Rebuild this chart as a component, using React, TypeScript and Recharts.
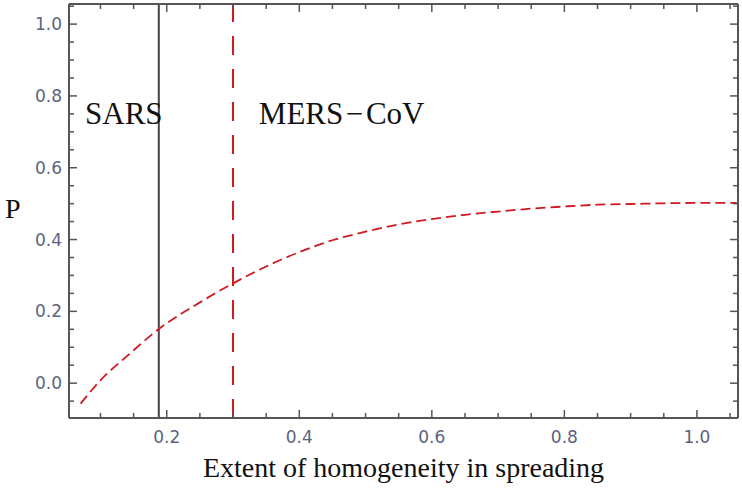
import React from "react";
import {
  LineChart,
  Line,
  XAxis,
  YAxis,
  ReferenceLine,
  ReferenceDot,
} from "recharts";

// curve
const xValues = [0.07, 0.1, 0.143, 0.186, 0.25, 0.3, 0.35, 0.4, 0.45, 0.5, 0.55, 0.6, 0.65, 0.7, 0.75, 0.8, 0.85, 0.9, 0.95, 1.0, 1.06];
const pValues = [-0.057, 0.008, 0.08, 0.148, 0.225, 0.278, 0.325, 0.365, 0.398, 0.422, 0.442, 0.457, 0.469, 0.478, 0.486, 0.492, 0.497, 0.499, 0.501, 0.502, 0.502];

const xTicks = [0.1, 0.15, 0.2, 0.25, 0.3, 0.35, 0.4, 0.45, 0.5, 0.55, 0.6, 0.65, 0.7, 0.75, 0.8, 0.85, 0.9, 0.95, 1.0, 1.05];
const yTicks = [-0.05, 0, 0.05, 0.1, 0.15, 0.2, 0.25, 0.3, 0.35, 0.4, 0.45, 0.5, 0.55, 0.6, 0.65, 0.7, 0.75, 0.8, 0.85, 0.9, 0.95, 1.0, 1.05];

const sarsX = 0.188;
const mersX = 0.3;

const data = xValues.map((x, i) => ({ x, p: pValues[i] }));

const frame = "#555";
const tickText = "#5a6480";
const red = "#d0191f";
const serif = "Liberation Serif";

const isMajor = (v: number) => Math.abs(v / 0.2 - Math.round(v / 0.2)) < 1e-6;

const tickLen = (v: number) => (isMajor(v) ? 8 : 5);

const BottomTick = (props: any) => {
  const { x, y, payload } = props;
  const v = payload.value;
  return (
    <g>
      <line x1={x} x2={x} y1={y} y2={y - tickLen(v)} stroke={frame} strokeWidth={1.5} />
      {isMajor(v) && (
        <text x={x} y={y + 25} textAnchor="middle" fill={tickText} fontSize={17} fontFamily="DejaVu Sans">
          {v.toFixed(1)}
        </text>
      )}
    </g>
  );
};

const TopTick = (props: any) => {
  const { x, y, payload } = props;
  return <line x1={x} x2={x} y1={y} y2={y + tickLen(payload.value)} stroke={frame} strokeWidth={1.5} />;
};

const LeftTick = (props: any) => {
  const { x, y, payload } = props;
  const v = payload.value;
  return (
    <g>
      <line x1={x} x2={x + tickLen(v)} y1={y} y2={y} stroke={frame} strokeWidth={1.5} />
      {isMajor(v) && (
        <text x={x - 7} y={y + 6} textAnchor="end" fill={tickText} fontSize={17} fontFamily="DejaVu Sans">
          {Math.abs(v) < 1e-9 ? "0.0" : v.toFixed(1)}
        </text>
      )}
    </g>
  );
};

const RightTick = (props: any) => {
  const { x, y, payload } = props;
  return <line x1={x} x2={x - tickLen(payload.value)} y1={y} y2={y} stroke={frame} strokeWidth={1.5} />;
};

const noteLabel = (value: string) => ({
  value,
  position: "right" as const,
  offset: 0,
  fontSize: 31,
  fontFamily: serif,
  fill: "#111",
});

export default function App() {
  const xDomain: [number, number] = [0.0525, 1.062];
  const yDomain: [number, number] = [-0.097, 1.056];
  return (
    <div style={{ position: "absolute", left: 0, top: 0, background: "#fff" }}>
      <LineChart width={742} height={491} data={data} margin={{ top: 0, right: 0, left: 0, bottom: 0 }}>
        <XAxis
          xAxisId="b"
          dataKey="x"
          type="number"
          domain={xDomain}
          allowDataOverflow
          ticks={xTicks}
          interval={0}
          height={73}
          tickSize={0}
          tickMargin={0}
          tick={<BottomTick />}
          axisLine={{ stroke: frame, strokeWidth: 2 }}
          label={{
            value: "Extent of homogeneity in spreading",
            position: "insideBottom",
            offset: 14,
            fontSize: 28,
            fontFamily: serif,
            fill: "#111",
          }}
        />
        <XAxis
          xAxisId="t"
          orientation="top"
          dataKey="x"
          type="number"
          domain={xDomain}
          allowDataOverflow
          ticks={xTicks}
          interval={0}
          height={4}
          tickSize={0}
          tickMargin={0}
          tick={<TopTick />}
          axisLine={{ stroke: frame, strokeWidth: 2 }}
        />
        <YAxis
          yAxisId="l"
          type="number"
          domain={yDomain}
          allowDataOverflow
          ticks={yTicks}
          interval={0}
          width={69}
          tickSize={0}
          tickMargin={0}
          tick={<LeftTick />}
          axisLine={{ stroke: frame, strokeWidth: 2 }}
          label={{
            value: "P",
            position: "insideLeft",
            offset: 5,
            dy: -3,
            fontSize: 28,
            fontFamily: serif,
            fill: "#111",
          }}
        />
        <YAxis
          yAxisId="r"
          orientation="right"
          type="number"
          domain={yDomain}
          allowDataOverflow
          ticks={yTicks}
          interval={0}
          width={4}
          tickSize={0}
          tickMargin={0}
          tick={<RightTick />}
          axisLine={{ stroke: frame, strokeWidth: 2 }}
        />
        <ReferenceLine xAxisId="b" yAxisId="l" x={sarsX} stroke="#444" strokeWidth={2} />
        <ReferenceLine xAxisId="b" yAxisId="l" x={mersX} stroke={red} strokeWidth={2} strokeDasharray="19 14" />
        <Line
          xAxisId="b"
          yAxisId="l"
          dataKey="p"
          type="monotone"
          stroke={red}
          strokeWidth={1.8}
          strokeDasharray="10 5"
          dot={false}
          isAnimationActive={false}
        />
        <ReferenceDot xAxisId="b" yAxisId="l" x={0.0767} y={0.752} r={0} fill="none" stroke="none" label={noteLabel("SARS")} />
        <ReferenceDot xAxisId="b" yAxisId="l" x={0.339} y={0.752} r={0} fill="none" stroke="none" label={noteLabel("MERS\u200a\u2212\u200aCoV")} />
      </LineChart>
    </div>
  );
}
